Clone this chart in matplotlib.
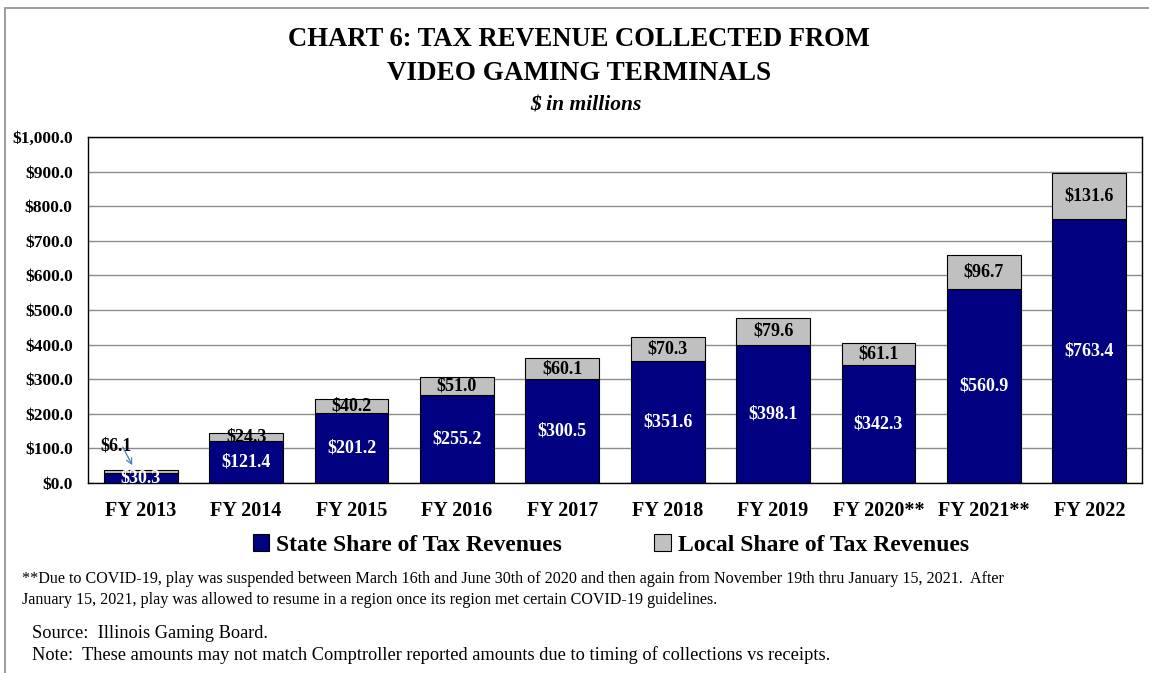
import matplotlib.pyplot as plt
from matplotlib.patches import Rectangle
from matplotlib.ticker import FuncFormatter
import numpy as np

# data ($ in millions)
years = ['FY 2013', 'FY 2014', 'FY 2015', 'FY 2016', 'FY 2017',
         'FY 2018', 'FY 2019', 'FY 2020**', 'FY 2021**', 'FY 2022']
state_share = [30.3, 121.4, 201.2, 255.2, 300.5, 351.6, 398.1, 342.3, 560.9, 763.4]
local_share = [6.1, 24.3, 40.2, 51.0, 60.1, 70.3, 79.6, 61.1, 96.7, 131.6]

serif = ['Liberation Serif', 'DejaVu Serif']

navy = '#000080'
grey = '#C0C0C0'

fig = plt.figure(figsize=(11.49, 6.73), dpi=100)
# outer frame of the chart area
fig.patches.append(Rectangle((5/1149, -0.01), 1.02, 1 - 8/673 + 0.01, transform=fig.transFigure,
                             fill=False, edgecolor='#8c8c8c', linewidth=1.2))

ax = fig.add_axes([88/1149, 1 - 483/673, (1142 - 88)/1149, (483 - 137)/673])
x = np.arange(len(years))
w = 0.70
b1 = ax.bar(x, state_share, w, color=navy, edgecolor='black', linewidth=0.8, zorder=3,
            label='State Share of Tax Revenues')
b2 = ax.bar(x, local_share, w, bottom=state_share, color=grey, edgecolor='black', linewidth=0.8,
            zorder=3, label='Local Share of Tax Revenues')

ax.set_xlim(-0.5, len(years) - 0.5)
ax.set_ylim(0, 1000)
ax.set_yticks(np.arange(0, 1001, 100))
ax.yaxis.set_major_formatter(FuncFormatter(lambda v, p: '${:,.1f}'.format(v)))
ax.grid(axis='y', color='#8c8c8c', linewidth=1.0, zorder=0)
ax.tick_params(length=0)
ax.tick_params(axis='y', pad=11)
ax.tick_params(axis='x', pad=13)
ax.set_xticks(x)
ax.set_xticklabels(years)
for lab in ax.get_yticklabels():
    lab.set_fontfamily(serif)
    lab.set_fontweight('bold')
    lab.set_fontsize(12.5)
for lab in ax.get_xticklabels():
    lab.set_fontfamily(serif)
    lab.set_fontweight('bold')
    lab.set_fontsize(14.5)
for s in ax.spines.values():
    s.set_linewidth(1.0)
    s.set_color('black')

# value labels
for i in range(len(years)):
    s, l = state_share[i], local_share[i]
    ax.text(x[i], s / 2, '${:.1f}'.format(s), ha='center', va='center', color='white',
            fontfamily=serif, fontweight='bold', fontsize=13, zorder=4, clip_on=True)
    if i == 0:
        # small local share on FY 2013 is labelled above with a pointer
        ax.text(x[i] - 0.23, 107, '${:.1f}'.format(l), ha='center', va='center',
                fontfamily=serif, fontweight='bold', fontsize=13, zorder=5)
        ax.annotate('', xy=(x[i] - 0.08, s + l + 15), xytext=(x[i] - 0.17, 104),
                    arrowprops=dict(arrowstyle='->', color='#4a7ebb', lw=0.9,
                                    shrinkA=0, shrinkB=0), zorder=6)
    else:
        ax.text(x[i], s + l / 2, '${:.1f}'.format(l), ha='center', va='center', color='black',
                fontfamily=serif, fontweight='bold', fontsize=13, zorder=4)

fig.text(579/1149, 1 - 40/673, 'CHART 6: TAX REVENUE COLLECTED FROM', ha='center', va='center',
         fontfamily=serif, fontweight='bold', fontsize=19.2)
fig.text(579/1149, 1 - 74/673, 'VIDEO GAMING TERMINALS', ha='center', va='center',
         fontfamily=serif, fontweight='bold', fontsize=19.5)
fig.text(586/1149, 1 - 105/673, '$ in millions', ha='center', va='center',
         fontfamily=serif, fontweight='bold', fontstyle='italic', fontsize=15.5)

leg = fig.legend(handles=[b1, b2], loc='center', bbox_to_anchor=(611/1149, 1 - 545/673), ncol=2,
                 frameon=False, handlelength=0.7, handleheight=0.7, handletextpad=0.3,
                 columnspacing=3.9, prop={'family': serif, 'weight': 'bold', 'size': 17})

note_kw = dict(fontfamily=serif, va='center', ha='left')
fig.text(22/1149, 1 - 579/673, '**Due to COVID-19, play was suspended between March 16th and June 30th of 2020 '
         'and then again from November 19th thru January 15, 2021.  After', fontsize=11.6, **note_kw)
fig.text(22/1149, 1 - 600/673, 'January 15, 2021, play was allowed to resume in a region once its region '
         'met certain COVID-19 guidelines.', fontsize=11.6, **note_kw)
fig.text(32/1149, 1 - 634/673, 'Source:  Illinois Gaming Board.', fontsize=13.2, **note_kw)
fig.text(32/1149, 1 - 655/673, 'Note:  These amounts may not match Comptroller reported amounts due to '
         'timing of collections vs receipts.', fontsize=13.2, **note_kw)

fig.savefig('out.png', dpi=100)
